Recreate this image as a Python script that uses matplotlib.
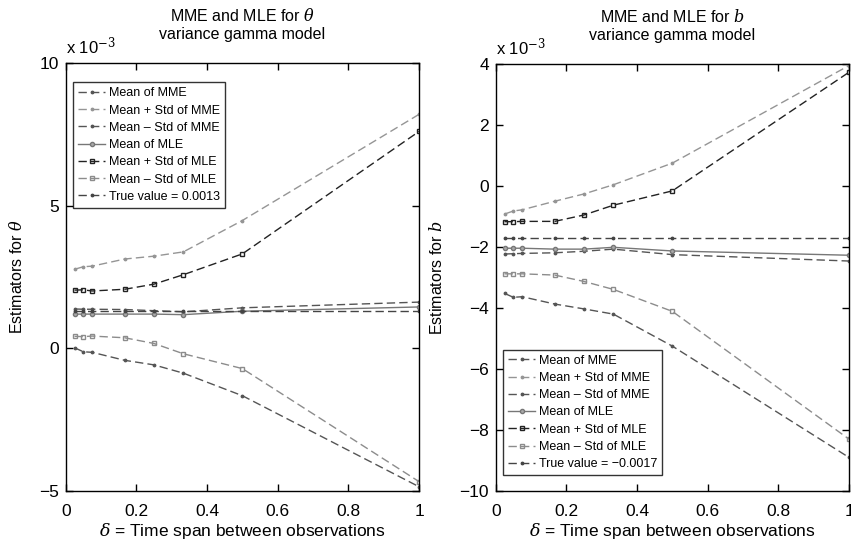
import numpy as np
import matplotlib
matplotlib.use("Agg")
from matplotlib import pyplot as plt

plt.rcParams['font.family'] = ['Liberation Sans', 'DejaVu Sans']
plt.rcParams['mathtext.fontset'] = 'dejavuserif'

# time spans (delta)
delta = [0.025, 0.05, 0.075, 0.167, 0.25, 0.333, 0.5, 1.0]

# theta estimators, units of 1e-3
th_mean_mme = [1.38, 1.37, 1.37, 1.36, 1.32, 1.28, 1.42, 1.62]
th_up_mme = [2.77, 2.86, 2.88, 3.13, 3.23, 3.38, 4.48, 8.2]
th_lo_mme = [0.02, -0.12, -0.14, -0.42, -0.58, -0.87, -1.66, -4.85]
th_mean_mle = [1.2, 1.2, 1.2, 1.2, 1.2, 1.18, 1.3, 1.45]
th_up_mle = [2.04, 2.05, 2.01, 2.07, 2.25, 2.58, 3.31, 7.6]
th_lo_mle = [0.42, 0.41, 0.43, 0.37, 0.17, -0.19, -0.71, -4.67]
th_true = 1.3

# b estimators, units of 1e-3
b_mean_mme = [-2.23, -2.22, -2.21, -2.19, -2.14, -2.07, -2.25, -2.46]
b_up_mme = [-0.92, -0.82, -0.78, -0.50, -0.26, 0.04, 0.75, 3.95]
b_lo_mme = [-3.52, -3.65, -3.63, -3.87, -4.03, -4.20, -5.25, -8.9]
b_mean_mle = [-2.04, -2.04, -2.04, -2.07, -2.07, -2.01, -2.13, -2.27]
b_up_mle = [-1.17, -1.17, -1.16, -1.16, -0.95, -0.63, -0.16, 3.73]
b_lo_mle = [-2.88, -2.88, -2.88, -2.92, -3.13, -3.39, -4.11, -8.3]
b_true = -1.72

labels = ['Mean of MME', 'Mean + Std of MME', 'Mean \u2013 Std of MME', 'Mean of MLE',
          'Mean + Std of MLE', 'Mean \u2013 Std of MLE']

dash = (6, 3)


def draw(ax, series, true_val, true_label):
    styles = [
        dict(color='#555555', ls='--', dashes=dash, marker='.', ms=3.5),
        dict(color='#959595', ls='--', dashes=dash, marker='.', ms=3.5),
        dict(color='#555555', ls='--', dashes=dash, marker='.', ms=3.5),
        dict(color='#777777', ls='-', marker='o', ms=3, mfc='#aaaaaa'),
        dict(color='#222222', ls='--', dashes=dash, marker='s', ms=3.5, mfc='none'),
        dict(color='#8c8c8c', ls='--', dashes=dash, marker='s', ms=3.5, mfc='none'),
    ]
    for vals, st, lab in zip(series, styles, labels):
        ax.plot(delta, vals, lw=1, label=lab, **st)
    ax.plot(delta, [true_val] * len(delta), color='#444444', lw=1, ls='--', dashes=dash,
            marker='.', ms=3.5, label=true_label)


fig = plt.figure(figsize=(8.51, 5.52), dpi=100)
W, H = 851, 552
ax1 = fig.add_axes([65.7 / W, 1 - 491 / H, 353.3 / W, 428 / H])
ax2 = fig.add_axes([495.7 / W, 1 - 491 / H, 353.3 / W, 427 / H])

draw(ax1, [th_mean_mme, th_up_mme, th_lo_mme, th_mean_mle, th_up_mle, th_lo_mle],
     th_true, 'True value = 0.0013')
draw(ax2, [b_mean_mme, b_up_mme, b_lo_mme, b_mean_mle, b_up_mle, b_lo_mle],
     b_true, 'True value = \u22120.0017')

ax1.set_xlim(0, 1)
ax1.set_ylim(-5, 10)
ax1.set_yticks([-5, 0, 5, 10])
ax2.set_xlim(0, 1)
ax2.set_ylim(-10, 4)
ax2.set_yticks([-10, -8, -6, -4, -2, 0, 2, 4])

for ax, t, yl in [(ax1, 'MME and MLE for $\\theta$\nvariance gamma model', 'Estimators for $\\theta$'),
                  (ax2, 'MME and MLE for $b$\nvariance gamma model', 'Estimators for $b$')]:
    ax.set_xticks([0, 0.2, 0.4, 0.6, 0.8, 1])
    ax.set_xticklabels(['0', '0.2', '0.4', '0.6', '0.8', '1'])
    ax.tick_params(direction='in', top=True, right=True, labelsize=12.5, length=5, width=1)
    ax.tick_params(axis='x', pad=9)
    ax.tick_params(axis='y', pad=5)
    for sp in ax.spines.values():
        sp.set_linewidth(1)
    ax.set_title(t, fontsize=11.5, pad=17, linespacing=1.25)
    ax.set_ylabel(yl, fontsize=11.5, labelpad=10)
    ax.set_xlabel('$\\delta$ = Time span between observations', fontsize=12.5, labelpad=1.5)
    ax.text(0.0, 1.015, 'x 10$^{-3}$', transform=ax.transAxes, fontsize=12, va='bottom', ha='left')

ax1.legend(loc='upper left', bbox_to_anchor=(0.02, 0.955), fontsize=9, frameon=True, fancybox=False,
           edgecolor='black', handlelength=2.2, handletextpad=0.3, borderpad=0.4, labelspacing=0.42,
           borderaxespad=0).get_frame().set_linewidth(1)
ax2.legend(loc='lower left', bbox_to_anchor=(0.02, 0.037), fontsize=9, frameon=True, fancybox=False,
           edgecolor='black', handlelength=2.2, handletextpad=0.3, borderpad=0.4, labelspacing=0.42,
           borderaxespad=0).get_frame().set_linewidth(1)

fig.savefig('out.png', dpi=100)
